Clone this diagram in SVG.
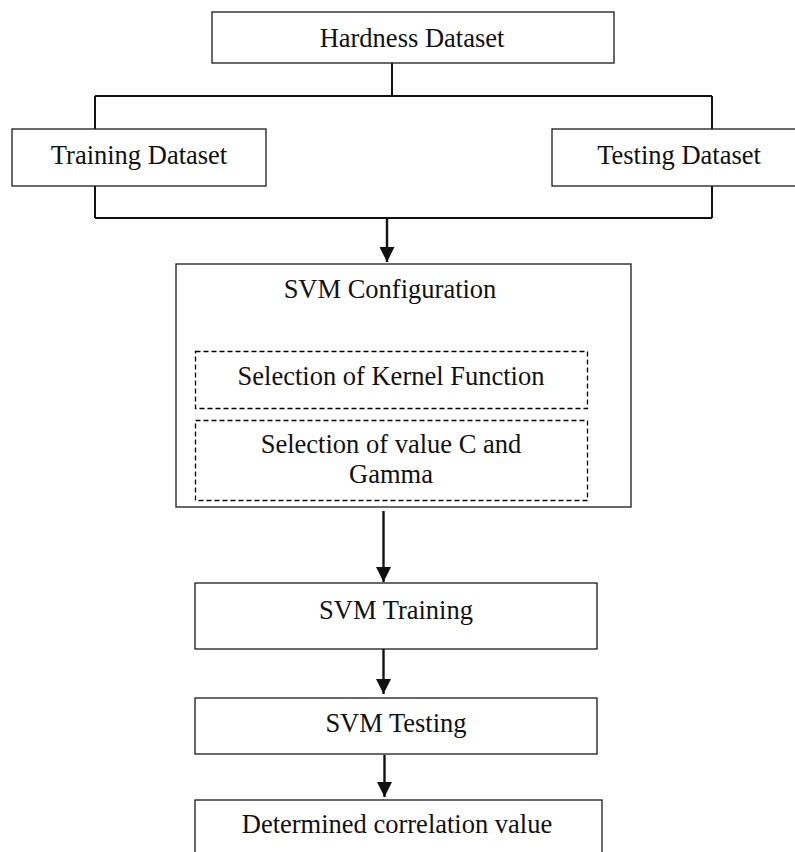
<svg xmlns="http://www.w3.org/2000/svg" width="795" height="852" viewBox="0 0 795 852">
  <style>
    .box { fill: #ffffff; stroke: #1a1a1a; stroke-width: 1.3; }
    .dash { fill: none; stroke: #000000; stroke-width: 1.3; stroke-dasharray: 5 3; }
    .lbl { font-family: "Liberation Serif", "Times New Roman", serif; font-size: 26.5px; fill: #111111; text-anchor: middle; }
    .wire { fill: none; stroke: #111111; stroke-width: 2; }
    .shaft { fill: none; stroke: #111111; stroke-width: 2.4; }
  </style>
  <defs>
    <marker id="head" viewBox="0 0 10 10" refX="10" refY="5" markerUnits="userSpaceOnUse" markerWidth="15" markerHeight="15" orient="auto">
      <path d="M0,0 L10,5 L0,10 Z" fill="#111111"/>
    </marker>
  </defs>
  <rect width="795" height="852" fill="#ffffff"/>

  <!-- connectors -->
  <g id="connectors">
    <path class="wire" d="M392,63 V96 M95,96 H712 M95,96 V129 M712,96 V129"/>
    <path class="wire" d="M95,186 V218 M712,186 V218 M95,218 H712"/>
    <line class="shaft" x1="387" y1="218" x2="387" y2="262" marker-end="url(#head)"/>
    <line class="shaft" x1="383.5" y1="511" x2="383.5" y2="582" marker-end="url(#head)"/>
    <line class="shaft" x1="383.5" y1="649" x2="383.5" y2="694" marker-end="url(#head)"/>
    <line class="shaft" x1="384.5" y1="755" x2="384.5" y2="797" marker-end="url(#head)"/>
  </g>

  <g id="hardness">
    <rect class="box" x="212" y="12" width="402" height="51"/>
    <text class="lbl" x="412" y="46.5">Hardness Dataset</text>
  </g>

  <g id="training-data">
    <rect class="box" x="12" y="129" width="254" height="57"/>
    <text class="lbl" x="139" y="164">Training Dataset</text>
  </g>

  <g id="testing-data">
    <rect class="box" x="552" y="129" width="256" height="57"/>
    <text class="lbl" x="679" y="164">Testing Dataset</text>
  </g>

  <g id="svm-config">
    <rect class="box" x="176" y="264" width="455" height="243"/>
    <text class="lbl" x="390" y="298">SVM Configuration</text>
    <g id="kernel">
      <rect class="dash" x="195.5" y="351.5" width="392" height="57"/>
      <text class="lbl" x="391" y="385">Selection of Kernel Function</text>
    </g>
    <g id="c-gamma">
      <rect class="dash" x="195.5" y="420.5" width="392" height="80"/>
      <text class="lbl" x="391" y="452.5">Selection of value C and</text>
      <text class="lbl" x="391" y="483">Gamma</text>
    </g>
  </g>

  <g id="svm-training">
    <rect class="box" x="195" y="583" width="402" height="66"/>
    <text class="lbl" x="396" y="619">SVM Training</text>
  </g>

  <g id="svm-testing">
    <rect class="box" x="195" y="698" width="402" height="56"/>
    <text class="lbl" x="396" y="732">SVM Testing</text>
  </g>

  <g id="correlation">
    <rect class="box" x="195" y="800" width="407" height="60"/>
    <text class="lbl" x="397" y="833">Determined correlation value</text>
  </g>
</svg>
